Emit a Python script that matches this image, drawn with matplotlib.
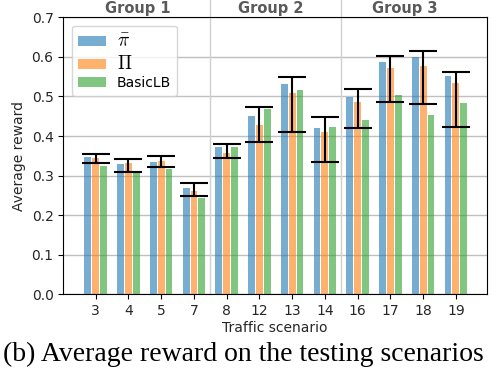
import numpy as np
import matplotlib
matplotlib.use('Agg')
from matplotlib import pyplot as plt

plt.rcParams['mathtext.fontset'] = 'cm'

scenarios = ['3', '4', '5', '7', '8', '12', '13', '14', '16', '17', '18', '19']
pi_bar = [0.348, 0.330, 0.335, 0.269, 0.373, 0.451, 0.532, 0.419, 0.499, 0.588, 0.600, 0.552]
pi_prod = [0.345, 0.331, 0.338, 0.262, 0.358, 0.428, 0.508, 0.409, 0.486, 0.572, 0.576, 0.533]
basic_lb = [0.324, 0.306, 0.316, 0.243, 0.372, 0.468, 0.516, 0.424, 0.441, 0.504, 0.452, 0.483]
err_low = [0.331, 0.308, 0.322, 0.248, 0.344, 0.386, 0.411, 0.335, 0.421, 0.486, 0.481, 0.423]
err_high = [0.355, 0.343, 0.349, 0.280, 0.380, 0.473, 0.548, 0.447, 0.519, 0.603, 0.616, 0.561]
groups = ['Group 1', 'Group 2', 'Group 3']
group_pos = [1.28, 5.35, 9.44]
group_bounds = [3.5, 7.5]

x = np.arange(len(scenarios))
w = 0.21
off = 0.24

fig = plt.figure(figsize=(4.96, 3.68), dpi=100)
ax = fig.add_axes([0.1276, 0.2003, 0.8536, 0.7527])

ax.bar(x - off, pi_bar, w, color='#1f77b4', alpha=0.6, label=r'$\bar{\pi}$', zorder=2)
ax.bar(x, pi_prod, w, color='#ff7f0e', alpha=0.6, label=r'$\Pi$', zorder=2)
ax.bar(x + off, basic_lb, w, color='#2ca02c', alpha=0.6, label='BasicLB', zorder=2)

mid = np.array(pi_prod)
yerr = [mid - np.array(err_low), np.array(err_high) - mid]
ax.errorbar(x, mid, yerr=yerr, fmt='none', ecolor='black', elinewidth=1.5,
            capsize=10, capthick=1.5, zorder=3)

for b in group_bounds:
    ax.plot([b, b], [0, 0.75], color='#d0d0d0', lw=1, clip_on=False, zorder=1)
for g, p in zip(groups, group_pos):
    ax.text(p, 0.711, g, ha='center', va='baseline', fontsize=10.5,
            fontweight='bold', color='#5a5a5a')

ax.set_xlim(-0.99, 11.94)
ax.set_ylim(0, 0.7)
ax.set_xticks(x)
ax.set_xticklabels(scenarios, fontsize=10, color='#262626')
ax.set_yticks(np.arange(0, 0.71, 0.1))
ax.set_yticklabels(['%.1f' % v for v in np.arange(0, 0.71, 0.1)], fontsize=10, color='#262626')
ax.yaxis.grid(True, color='#c0c0c0', lw=1, zorder=0)
ax.set_axisbelow(True)
ax.set_xlabel('Traffic scenario', fontsize=10, color='#262626', labelpad=2)
ax.set_ylabel('Average reward', fontsize=10, color='#262626', labelpad=4)

leg = ax.legend(loc='upper left', fontsize=10, bbox_to_anchor=(0.005, 0.995),
                framealpha=0.8, edgecolor='#cccccc', labelspacing=0.25,
                borderpad=0.4)
leg.get_texts()[0].set_fontsize(14)
leg.get_texts()[1].set_fontsize(13.5)

fig.text(0.006, 0.018, '(b) Average reward on the testing scenarios',
         fontsize=20, family='Liberation Serif', va='baseline', ha='left')

fig.savefig('out.png', dpi=100)
